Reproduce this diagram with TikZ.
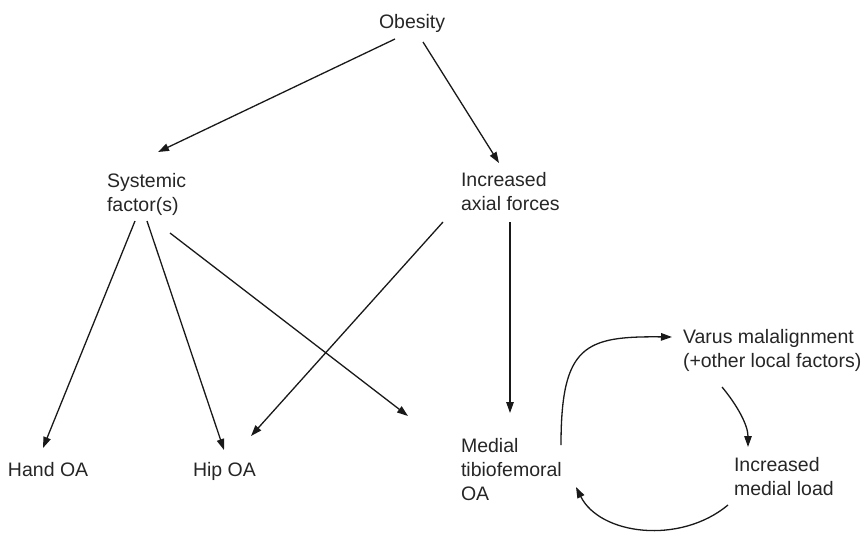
\documentclass[tikz,border=0pt]{standalone}
\usepackage{fontspec}
\setmainfont{Liberation Sans}
\usetikzlibrary{arrows.meta}
\tikzset{
  txt/.style={inner sep=0pt, outer sep=0pt, align=left, anchor=base west,
    font=\fontsize{19.5}{24}\selectfont, text=black!85},
  conn/.style={line width=1.3pt, black!90, -{Triangle[length=11pt,width=7.5pt]}}
}
\begin{document}
\begin{tikzpicture}[x=1pt,y=-1pt]
\useasboundingbox (0,0) rectangle (864,533);
% base west = baseline of the last line
\node[txt] (obesity) at (379,28) {Obesity};
\node[txt] (systemic) at (107,211) {Systemic\\factor(s)};
\node[txt] (inc) at (461,210) {Increased\\axial forces};
\node[txt] (hand) at (8,476) {Hand OA};
\node[txt] (hip) at (193,476) {Hip OA};
\node[txt] (medial) at (461,500) {Medial\\tibiofemoral\\OA};
\node[txt] (varus) at (683,367) {Varus malalignment\\(+other local factors)};
\node[txt] (load) at (734,495) {Increased\\medial load};
% arrows
\draw[conn] ([shift={(16,11)}]obesity.base west) -- ([shift={(51,-59)}]systemic.base west);
\draw[conn] ([shift={(44,14)}]obesity.base west) -- ([shift={(38,-47)}]inc.base west);
\draw[conn] ([shift={(28,10)}]systemic.base west) -- ([shift={(35,-28)}]hand.base west);
\draw[conn] ([shift={(40,10)}]systemic.base west) -- ([shift={(31,-26)}]hip.base west);
\draw[conn] ([shift={(63,22)}]systemic.base west) -- ([shift={(-53,-84)}]medial.base west);
\draw[conn] ([shift={(-18,12)}]inc.base west) -- ([shift={(58,-40)}]hip.base west);
\draw[conn] ([shift={(49,12)}]inc.base west) -- ([shift={(49,-87)}]medial.base west);
\draw[conn] ([shift={(100,-55)}]medial.base west)
  .. controls ([shift={(100,-155)}]medial.base west) and ([shift={(-98,-31)}]varus.base west)
  .. ([shift={(-11,-30)}]varus.base west);
\draw[conn] ([shift={(39,20)}]varus.base west)
  .. controls ([shift={(54,38)}]varus.base west) and ([shift={(14,-70)}]load.base west)
  .. ([shift={(14,-48)}]load.base west);
\draw[conn] ([shift={(-6,10)}]load.base west)
  .. controls ([shift={(-54,50)}]load.base west) and ([shift={(139,35)}]medial.base west)
  .. ([shift={(115,-13)}]medial.base west);
\end{tikzpicture}
\end{document}
